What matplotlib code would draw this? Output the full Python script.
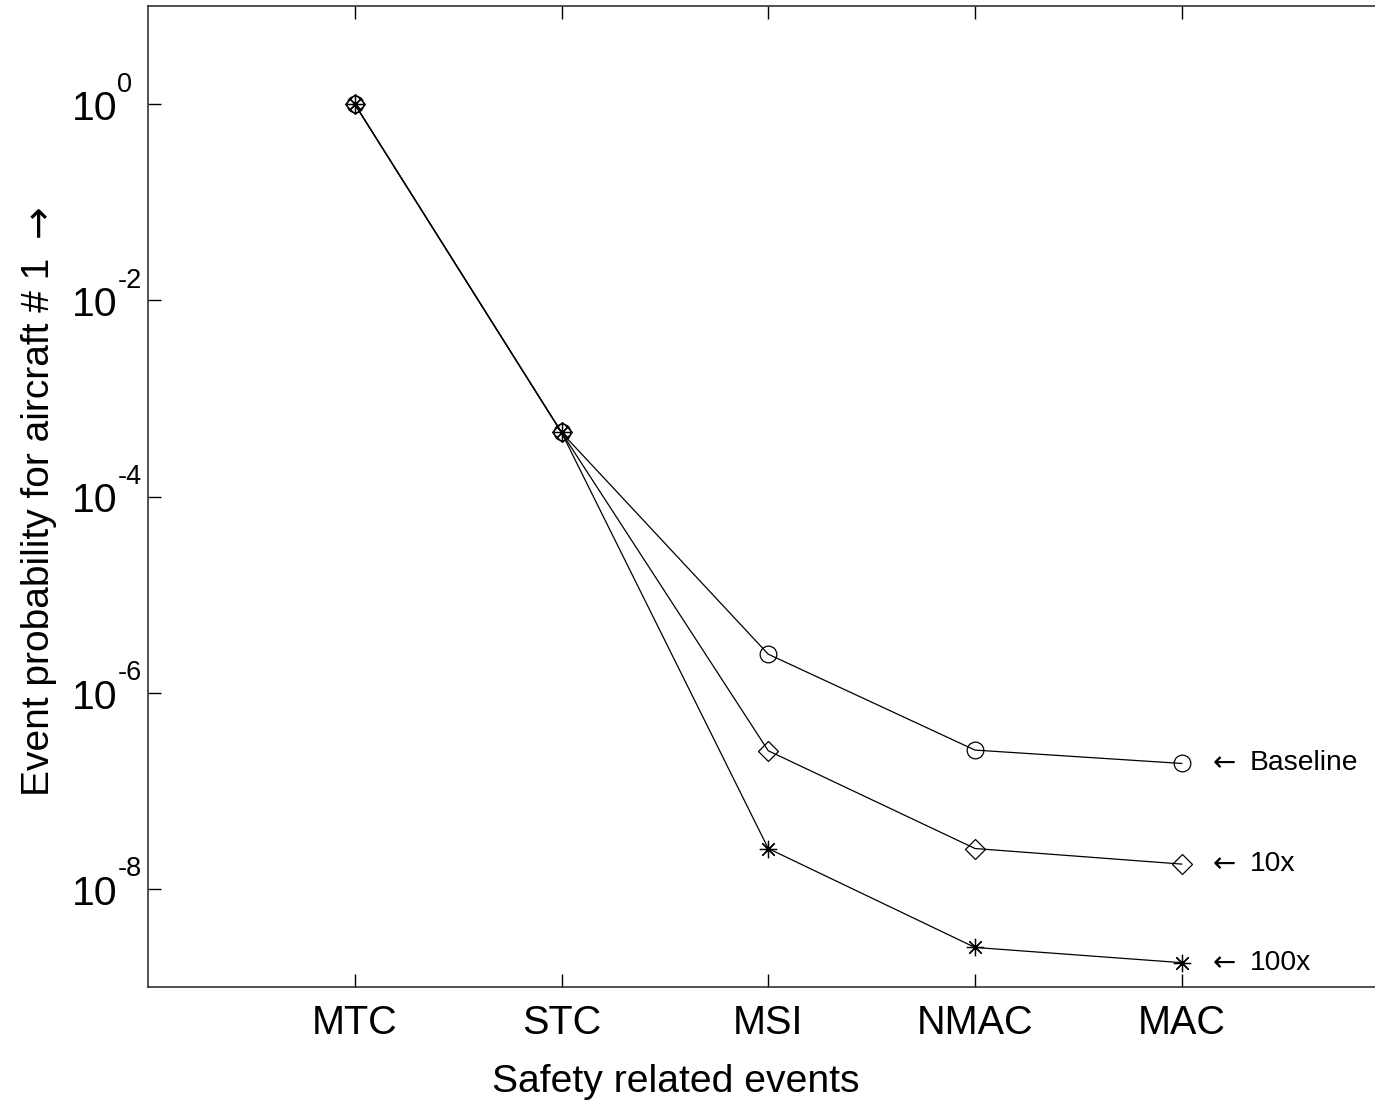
import numpy as np
import matplotlib
matplotlib.use("Agg")
import matplotlib.pyplot as plt

# ----------------------------------------------------------
# Data
# ----------------------------------------------------------
events = ["MTC", "STC", "MSI", "NMAC", "MAC"]
x_pos = [1, 2, 3, 4, 5]

baseline = [1.0, 4.5e-4, 2.47e-6, 2.60e-7, 1.90e-7]
rate_10x = [1.0, 4.5e-4, 2.56e-7, 2.58e-8, 1.79e-8]
rate_100x = [1.0, 4.5e-4, 2.58e-8, 2.53e-9, 1.77e-9]

series_names = ["Baseline", "10x", "100x"]
y_ticks = [1e0, 1e-2, 1e-4, 1e-6, 1e-8]
y_exponents = ["0", "-2", "-4", "-6", "-8"]

# ----------------------------------------------------------
# Style
# ----------------------------------------------------------
plt.rcParams['font.family'] = ['Liberation Sans', 'DejaVu Sans']

W, H = 1375, 1106
fig = plt.figure(figsize=(W / 100, H / 100), dpi=100)
left = 148 / W
bottom = 1 - 987 / H
width = (1388.5 - 148) / W
height = (987 - 6) / H
ax = fig.add_axes([left, bottom, width, height])

line_kw = dict(color='black', lw=0.9, mfc='none', mec='black', mew=0.9)
ax.plot(x_pos, baseline, marker='o', ms=12, **line_kw)
ax.plot(x_pos, rate_10x, marker='D', ms=10.5, **line_kw)
ax.plot(x_pos, rate_100x, marker=(8, 2, 0), ms=12.5, **line_kw)

ax.set_yscale('log')
ax.set_xlim(0, 6)
ax.set_ylim(1e-9, 1e1)
ax.set_xticks(x_pos)
ax.set_xticklabels(events, fontsize=28.5)
ax.set_yticks(y_ticks)
ax.set_yticklabels([""] * len(y_ticks))
ax.yaxis.set_minor_locator(matplotlib.ticker.NullLocator())
ax.tick_params(direction='in', length=9.5, width=1, top=True, right=False, pad=12)
ax.spines['right'].set_visible(False)

for s in ax.spines.values():
    s.set_linewidth(1.2)
    s.set_color('#333333')

# MATLAB-style "10^n" labels: base and raised exponent
for yt, ex in zip(y_ticks, y_exponents):
    ax.annotate("10", xy=(0, yt), xycoords=('axes fraction', 'data'),
                xytext=(-55, -11.5), textcoords='offset points',
                fontsize=29.5, ha='left', va='baseline')
    ax.annotate(ex, xy=(0, yt), xycoords=('axes fraction', 'data'),
                xytext=(-22, 9), textcoords='offset points',
                fontsize=19.5, ha='left', va='baseline')

ax.set_xlabel("Safety related events", fontsize=28.2)
ax.xaxis.set_label_coords(0.4256, -0.078)
ax.set_ylabel("Event probability for aircraft # 1", fontsize=28)
ax.yaxis.set_label_coords(-0.073, 0.4695)
ax.text(-0.0879, 0.7645, "\u2192", transform=ax.transAxes, rotation=90,
        fontsize=28, family=['DejaVu Sans'], ha='center', va='bottom')

# Series labels at the right end
ends = [baseline[-1], rate_10x[-1], rate_100x[-1]]
for name, yv in zip(series_names, ends):
    ax.text(5.15, yv, "\u2190", fontsize=20, family=['DejaVu Sans'],
            va='center', ha='left')
    ax.text(5.329, yv, name, fontsize=20.3, va='center', ha='left')

fig.savefig("out.png", dpi=100)
